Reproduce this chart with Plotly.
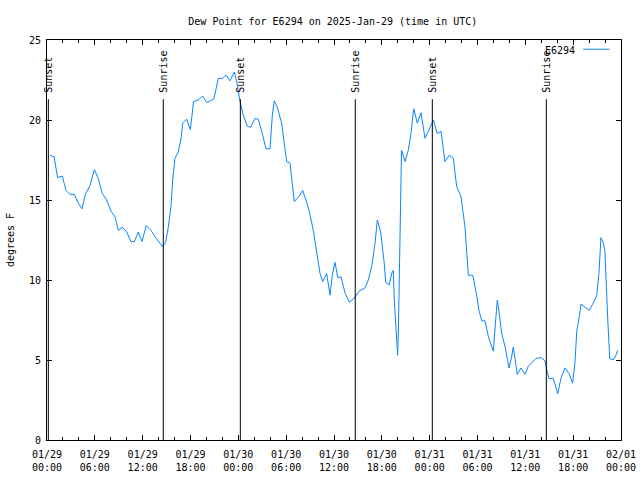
import plotly.graph_objects as go

# ---- data ----
times = [
    "2025-01-29 00:23", "2025-01-29 00:53", "2025-01-29 01:20", "2025-01-29 01:55", "2025-01-29 02:23",
    "2025-01-29 02:53", "2025-01-29 03:25", "2025-01-29 03:56", "2025-01-29 04:23", "2025-01-29 04:51",
    "2025-01-29 05:24", "2025-01-29 05:56", "2025-01-29 06:26", "2025-01-29 06:56", "2025-01-29 07:29",
    "2025-01-29 08:02", "2025-01-29 08:32", "2025-01-29 08:57", "2025-01-29 09:27", "2025-01-29 10:00",
    "2025-01-29 10:32", "2025-01-29 10:57", "2025-01-29 11:27", "2025-01-29 11:55", "2025-01-29 12:27",
    "2025-01-29 13:03", "2025-01-29 13:33", "2025-01-29 13:58", "2025-01-29 14:28", "2025-01-29 14:53",
    "2025-01-29 15:13", "2025-01-29 15:33", "2025-01-29 15:46", "2025-01-29 16:03", "2025-01-29 16:28",
    "2025-01-29 16:49", "2025-01-29 17:01", "2025-01-29 17:31", "2025-01-29 17:59", "2025-01-29 18:23",
    "2025-01-29 18:59", "2025-01-29 19:32", "2025-01-29 20:02", "2025-01-29 20:32", "2025-01-29 20:57",
    "2025-01-29 21:29", "2025-01-29 21:59", "2025-01-29 22:27", "2025-01-29 22:57", "2025-01-29 23:30",
    "2025-01-29 23:48",
    "2025-01-30 00:13", "2025-01-30 00:37", "2025-01-30 01:08", "2025-01-30 01:33", "2025-01-30 02:05",
    "2025-01-30 02:30", "2025-01-30 02:56", "2025-01-30 03:28", "2025-01-30 03:58", "2025-01-30 04:16",
    "2025-01-30 04:31", "2025-01-30 04:53", "2025-01-30 05:26", "2025-01-30 05:46", "2025-01-30 06:04",
    "2025-01-30 06:29", "2025-01-30 06:46", "2025-01-30 07:01", "2025-01-30 07:39", "2025-01-30 08:04",
    "2025-01-30 08:29", "2025-01-30 08:54", "2025-01-30 09:24", "2025-01-30 09:50", "2025-01-30 10:15",
    "2025-01-30 10:35", "2025-01-30 11:05", "2025-01-30 11:30", "2025-01-30 11:47", "2025-01-30 12:08",
    "2025-01-30 12:28", "2025-01-30 12:53", "2025-01-30 13:23", "2025-01-30 13:55", "2025-01-30 14:25",
    "2025-01-30 14:43", "2025-01-30 15:08", "2025-01-30 15:53", "2025-01-30 16:18", "2025-01-30 16:44",
    "2025-01-30 17:09", "2025-01-30 17:26", "2025-01-30 17:51", "2025-01-30 18:18", "2025-01-30 18:29",
    "2025-01-30 18:56", "2025-01-30 19:14", "2025-01-30 19:26", "2025-01-30 19:34", "2025-01-30 19:52",
    "2025-01-30 19:59", "2025-01-30 20:05", "2025-01-30 20:28", "2025-01-30 20:55", "2025-01-30 21:19",
    "2025-01-30 21:40", "2025-01-30 22:00", "2025-01-30 22:27", "2025-01-30 22:55", "2025-01-30 23:25",
    "2025-01-30 23:50",
    "2025-01-31 00:28", "2025-01-31 00:58", "2025-01-31 01:25", "2025-01-31 01:55", "2025-01-31 02:28",
    "2025-01-31 02:58", "2025-01-31 03:23", "2025-01-31 03:56", "2025-01-31 04:26", "2025-01-31 04:51",
    "2025-01-31 05:24", "2025-01-31 05:54", "2025-01-31 06:11", "2025-01-31 06:32", "2025-01-31 06:56",
    "2025-01-31 07:22", "2025-01-31 07:47", "2025-01-31 07:59", "2025-01-31 08:17", "2025-01-31 08:29",
    "2025-01-31 08:44", "2025-01-31 09:02", "2025-01-31 09:27", "2025-01-31 09:57", "2025-01-31 10:17",
    "2025-01-31 10:29", "2025-01-31 10:42", "2025-01-31 10:59", "2025-01-31 11:27", "2025-01-31 11:57",
    "2025-01-31 12:22", "2025-01-31 12:48", "2025-01-31 13:20", "2025-01-31 13:58", "2025-01-31 14:28",
    "2025-01-31 14:41", "2025-01-31 14:58", "2025-01-31 15:30", "2025-01-31 16:04", "2025-01-31 16:28",
    "2025-01-31 16:59", "2025-01-31 17:29", "2025-01-31 17:56", "2025-01-31 18:14", "2025-01-31 18:27",
    "2025-01-31 18:44", "2025-01-31 18:59", "2025-01-31 19:29", "2025-01-31 20:01", "2025-01-31 20:24",
    "2025-01-31 20:57", "2025-01-31 21:14", "2025-01-31 21:29", "2025-01-31 21:47", "2025-01-31 21:59",
    "2025-01-31 22:20", "2025-01-31 22:35", "2025-01-31 23:02", "2025-01-31 23:22", "2025-01-31 23:35",
]

dew_point = [
    17.8, 17.7, 16.4, 16.5, 15.6,
    15.35, 15.35, 14.8, 14.45, 15.4,
    15.9, 16.9, 16.35, 15.4, 15.0,
    14.3, 13.95, 13.1, 13.3, 13.0,
    12.4, 12.4, 13.0, 12.4, 13.4,
    13.1, 12.7, 12.45, 12.1, 12.35,
    13.3, 14.6, 16.25, 17.6, 18.0,
    18.85, 19.8, 20.05, 19.4, 21.15,
    21.25, 21.5, 21.1, 21.2, 21.35,
    22.6, 22.6, 22.8, 22.45, 23.0,
    22.4,
    21.15, 20.3, 19.6, 19.55, 20.1,
    20.05, 19.3, 18.2, 18.2, 20.3,
    21.2, 20.8, 19.8, 18.65, 17.4,
    17.3, 15.85, 14.9, 15.25, 15.6,
    15.0, 14.3, 13.1, 11.7, 10.4,
    9.9, 10.4, 9.05, 10.3, 11.1,
    10.15, 10.2, 9.2, 8.6, 8.8,
    9.0, 9.3, 9.5, 10.0, 10.85,
    12.3, 13.75, 13.0, 11.05, 9.85,
    9.7, 10.4, 10.6, 8.75, 6.25,
    5.3, 7.0, 18.1, 17.4, 18.1,
    19.2, 20.7, 19.8, 20.45, 18.85,
    19.3,
    20.0, 19.15, 19.3, 17.4, 17.8,
    17.6, 15.85, 15.2, 13.3, 10.3,
    10.3, 9.05, 8.1, 7.45, 7.45,
    6.45, 5.85, 5.55, 7.5, 8.75,
    7.9, 6.65, 5.85, 4.5, 5.2,
    5.8, 5.1, 4.1, 4.5, 4.1,
    4.6, 4.85, 5.1, 5.15, 4.95,
    4.4, 3.85, 3.85, 2.9, 3.85,
    4.5, 4.15, 3.55, 4.9, 6.8,
    7.6, 8.5, 8.3, 8.1, 8.45,
    9.0, 10.4, 12.65, 12.3, 11.8,
    7.6, 5.1, 5.0, 5.3, 5.6,
]

sun_times = ["2025-01-29 00:10", "2025-01-29 14:35", "2025-01-30 00:15",
             "2025-01-30 14:40", "2025-01-31 00:20", "2025-01-31 14:38"]
sun_labels = ["Sunset", "Sunrise", "Sunset", "Sunrise", "Sunset", "Sunrise"]

tick_vals = ["2025-01-29 00:00", "2025-01-29 06:00", "2025-01-29 12:00", "2025-01-29 18:00",
             "2025-01-30 00:00", "2025-01-30 06:00", "2025-01-30 12:00", "2025-01-30 18:00",
             "2025-01-31 00:00", "2025-01-31 06:00", "2025-01-31 12:00", "2025-01-31 18:00",
             "2025-02-01 00:00"]
tick_text = ["01/29<br>00:00", "01/29<br>06:00", "01/29<br>12:00", "01/29<br>18:00",
             "01/30<br>00:00", "01/30<br>06:00", "01/30<br>12:00", "01/30<br>18:00",
             "01/31<br>00:00", "01/31<br>06:00", "01/31<br>12:00", "01/31<br>18:00",
             "02/01<br>00:00"]
y_ticks = [0, 5, 10, 15, 20, 25]
station = "E6294"
line_top = 21.3
label_y = 21.6

FONT = "DejaVu Sans Mono"
LINE_COLOR = "#0a84ff"

fig = go.Figure()
fig.add_trace(go.Scatter(x=times, y=dew_point, mode="lines", name=station,
                         line=dict(color=LINE_COLOR, width=1), showlegend=False))

for t, lab in zip(sun_times, sun_labels):
    fig.add_shape(type="line", xref="x", yref="y", x0=t, x1=t, y0=0, y1=line_top,
                  line=dict(color="black", width=1))
    fig.add_annotation(x=t, y=label_y, xref="x", yref="y", text=lab, textangle=-90,
                       showarrow=False, xanchor="center", yanchor="bottom",
                       font=dict(family=FONT, size=10, color="black"))

# legend (gnuplot style: text then sample line)
fig.add_annotation(x=0.924, y=0.975, xref="paper", yref="paper", text=station,
                   showarrow=False, xanchor="right", yanchor="middle",
                   font=dict(family=FONT, size=10, color="black"))
fig.add_shape(type="line", xref="paper", yref="paper", x0=0.934, x1=0.98, y0=0.977, y1=0.977,
              line=dict(color=LINE_COLOR, width=1))

fig.update_layout(
    width=640, height=480,
    margin=dict(l=47, r=19, t=40, b=40, autoexpand=False),
    paper_bgcolor="white", plot_bgcolor="white",
    font=dict(family=FONT, size=10, color="black"),
    title=dict(text="Dew Point for " + station + " on 2025-Jan-29 (time in UTC)",
               x=0.52, xanchor="center", y=0.956, yanchor="middle",
               font=dict(family=FONT, size=10, color="black")),
    showlegend=False,
)
fig.update_xaxes(
    type="date", range=["2025-01-29 00:00", "2025-02-01 00:00"],
    tickmode="array", tickvals=tick_vals, ticktext=tick_text,
    ticks="inside", ticklen=5, tickcolor="black", tickwidth=1,
    minor=dict(dtick=2 * 3600 * 1000, tick0="2025-01-29 00:00", ticks="inside",
               ticklen=3, tickcolor="black", tickwidth=1, showgrid=False),
    showline=True, linecolor="black", linewidth=1, mirror="ticks",
    showgrid=False, zeroline=False, ticklabelstandoff=5, automargin=False,
)
fig.update_yaxes(
    range=[0, 25], tickmode="array", tickvals=y_ticks,
    ticks="inside", ticklen=5, tickcolor="black", tickwidth=1,
    showline=True, linecolor="black", linewidth=1, mirror="ticks",
    showgrid=False, zeroline=False, ticklabelstandoff=3, automargin=False,
    title=dict(text="degrees F", standoff=12, font=dict(family=FONT, size=10)),
)

fig.write_html("out.html", config={"displayModeBar": False},
               post_script="document.body.style.margin='0';document.body.style.padding='0';")
